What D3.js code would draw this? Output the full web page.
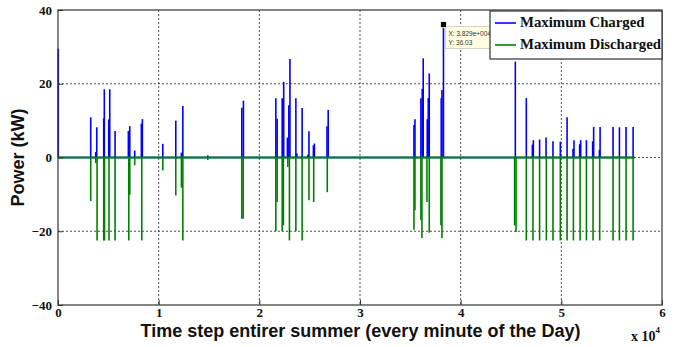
<!DOCTYPE html>
<html>
<head>
<meta charset="utf-8">
<script src="https://cdn.jsdelivr.net/npm/d3@7"></script>
<style>
  body { margin: 0; background: #fff; }
  svg { display: block; }
</style>
</head>
<body>
<div id="chart"></div>
<script>
// charged spikes: time step (minute) and power (kW)
const chargedTimes = [30, 3250, 3750, 3850, 4540, 4600, 5040, 5140, 5670, 6990, 7130, 7620, 8280, 8380,
  10410, 11700, 12260, 12400, 14880, 18260, 18420, 21640, 21770, 22270, 22420, 22790, 22930, 23040,
  23630, 23730, 24250, 24830, 24930, 25370, 25470, 26720, 26840, 35360, 35460, 36050, 36180, 36280,
  36680, 36780, 36880, 38070, 38140, 38290, 45430, 46520, 47120, 47220, 47840, 48480, 49170, 49900,
  50570, 51160, 51260, 51820, 51920, 52490, 53110, 53210, 53780, 53850, 55140, 55770, 56430, 57130];
const chargedValues = [29.5, 10.9, 1.5, 8.2, 10.6, 18.5, 10.3, 18.5, 7.2, 7.2, 8.5, 1.9, 9.2, 10.4,
  3.7, 10.0, 1.3, 14.0, 0.6, 13.5, 15.4, 16.1, 10.5, 16.1, 20.5, 5.4, 14.2, 26.7,
  16.1, 1.1, 13.4, 0.8, 7.1, 3.3, 3.8, 8.5, 12.9, 8.8, 10.4, 16.1, 18.6, 26.9,
  10.4, 16.1, 22.8, 16.1, 18.3, 36.03, 26.0, 16.1, 3.5, 4.7, 4.9, 5.4, 4.4, 4.3,
  10.9, 2.4, 4.7, 3.6, 4.7, 4.7, 4.4, 8.3, 2.0, 8.3, 8.3, 8.2, 8.3, 8.3];

// discharged spikes
const dischargedTimes = [3250, 3750, 3880, 4540, 4620, 5070, 5670, 7030, 7130, 7620, 8320, 10410,
  11700, 12260, 12400, 14880, 18260, 18400, 21640, 21770, 22270, 22390, 22830, 22990, 23630, 24250,
  24930, 25400, 26750, 35360, 35460, 36050, 36150, 36650, 36880, 38040, 38140, 45360, 45500, 46520,
  47180, 47840, 48510, 49170, 49900, 50570, 51200, 51860, 52490, 53150, 53810, 55140, 55770, 56430, 57130];
const dischargedValues = [-11.8, -1.5, -22.5, -22.5, -22.5, -22.5, -22.5, -22.5, -10.1, -2.1, -22.5, -3.5,
  -10.3, -8.2, -22.5, -0.7, -16.6, -16.6, -20.0, -12.1, -20.0, -18.4, -2.6, -22.5, -20.0, -22.5,
  -11.6, -12.1, -9.4, -19.6, -14.3, -17.0, -21.8, -12.1, -20.4, -18.4, -21.8, -18.4, -20.2, -22.5,
  -22.5, -22.5, -22.5, -22.5, -22.5, -22.5, -22.5, -22.5, -22.5, -22.5, -22.5, -22.5, -22.5, -22.5, -22.5];

const lastStep = 57280;
const xTicks = [0, 10000, 20000, 30000, 40000, 50000, 60000];
const yTicks = [-40, -20, 0, 20, 40];
const legendLabels = ["Maximum Charged", "Maximum Discharged"];
const tipPoint = { x: 38290, y: 36.03 };

const width = 688, height = 347;
const margin = { top: 10, right: 26, bottom: 42, left: 58 };
const w = width - margin.left - margin.right;
const h = height - margin.top - margin.bottom;

const blue = "#0000ff", green = "#008000";
const serif = "'Liberation Serif', 'Times New Roman', serif";
const sans = "'Liberation Sans', Arial, sans-serif";

const svg = d3.select("#chart").append("svg")
  .attr("width", width).attr("height", height);
const g = svg.append("g").attr("transform", `translate(${margin.left},${margin.top})`);

const x = d3.scaleLinear().domain([0, 60000]).range([0, w]);
const y = d3.scaleLinear().domain([-40, 40]).range([h, 0]);

// grid
g.append("g").selectAll("line").data(xTicks.slice(1, -1)).enter().append("line")
  .attr("x1", d => x(d)).attr("x2", d => x(d)).attr("y1", 0).attr("y2", h)
  .attr("stroke", "#222").attr("stroke-width", 0.8).attr("stroke-dasharray", "2,2");
g.append("g").selectAll("line").data(yTicks.slice(1, -1)).enter().append("line")
  .attr("x1", 0).attr("x2", w).attr("y1", d => y(d)).attr("y2", d => y(d))
  .attr("stroke", "#222").attr("stroke-width", 0.8).attr("stroke-dasharray", "2,2");

// charged
const cg = g.append("g").attr("stroke", blue).attr("stroke-width", 1.6);
cg.append("line").attr("x1", x(0)).attr("x2", x(lastStep)).attr("y1", y(0)).attr("y2", y(0));
cg.selectAll(".sp").data(chargedTimes).enter().append("line").attr("class", "sp")
  .attr("x1", d => x(d)).attr("x2", d => x(d))
  .attr("y1", y(0)).attr("y2", (d, i) => y(chargedValues[i]));

// discharged
const dg = g.append("g").attr("stroke", green).attr("stroke-width", 1.6);
dg.selectAll(".sp").data(dischargedTimes).enter().append("line").attr("class", "sp")
  .attr("x1", d => x(d)).attr("x2", d => x(d))
  .attr("y1", y(0)).attr("y2", (d, i) => y(dischargedValues[i]));
dg.append("line").attr("x1", x(0)).attr("x2", x(lastStep)).attr("y1", y(0)).attr("y2", y(0))
  .attr("stroke-width", 2);

// axes box
g.append("rect").attr("width", w).attr("height", h)
  .attr("fill", "none").attr("stroke", "#333").attr("stroke-width", 1.2);

// ticks (inward) and labels
const xAxis = g.append("g").attr("transform", `translate(0,${h})`)
  .call(d3.axisBottom(x).tickValues(xTicks).tickSize(-5).tickPadding(3).tickFormat(d => d / 10000));
const yAxis = g.append("g")
  .call(d3.axisLeft(y).tickValues(yTicks).tickSize(-5).tickPadding(6).tickFormat(d3.format("d")));
[xAxis, yAxis].forEach(a => {
  a.select(".domain").remove();
  a.selectAll("line").attr("stroke", "#333");
  a.selectAll("text").attr("font-family", serif).attr("font-weight", "bold")
    .attr("font-size", 13).attr("fill", "#111");
});

// exponent
const ex = g.append("text").attr("x", w - 31).attr("y", h + 36)
  .attr("font-family", serif).attr("font-weight", "bold").attr("font-size", 14).attr("fill", "#111");
ex.append("tspan").text("x 10");
ex.append("tspan").attr("dy", -8).attr("font-size", 9).text("4");

// axis labels
g.append("text").attr("x", (138 + 583) / 2 - margin.left).attr("y", h + 32)
  .attr("text-anchor", "middle").attr("font-family", sans).attr("font-weight", "bold")
  .attr("font-size", 18).attr("fill", "#111")
  .text("Time step entirer summer (every minute of the Day)");
g.append("text").attr("transform", `translate(${-34},${h / 2}) rotate(-90)`)
  .attr("text-anchor", "middle").attr("font-family", sans).attr("font-weight", "bold")
  .attr("font-size", 18).attr("fill", "#111").text("Power (kW)");

// data tip
const tx = x(tipPoint.x), ty = y(tipPoint.y);
const tip = g.append("g");
tip.append("rect").attr("x", tx + 2).attr("y", ty + 2).attr("width", 46).attr("height", 22)
  .attr("fill", "#ffffe1").attr("stroke", "#c8c8b4").attr("stroke-width", 0.8);
tip.append("text").attr("x", tx + 5).attr("y", ty + 11).attr("font-family", sans)
  .attr("font-size", 6.5).attr("fill", "#333").text("X: 3.829e+004");
tip.append("text").attr("x", tx + 5).attr("y", ty + 20).attr("font-family", sans)
  .attr("font-size", 6.5).attr("fill", "#333").text("Y: 36.03");
tip.append("rect").attr("x", tx - 3).attr("y", ty - 3).attr("width", 6).attr("height", 6)
  .attr("fill", "#000").attr("stroke", "#ffffe1").attr("stroke-width", 0.8);

// legend
const lg = g.append("g").attr("transform", `translate(${w - 172},0)`);
lg.append("rect").attr("x", 0).attr("y", 1).attr("width", 172).attr("height", 48)
  .attr("fill", "#fff").attr("stroke", "#333").attr("stroke-width", 1.2);
lg.selectAll(".ll").data(legendLabels).enter().append("line").attr("class", "ll")
  .attr("x1", 5).attr("x2", 26).attr("y1", (d, i) => 13 + i * 22).attr("y2", (d, i) => 13 + i * 22)
  .attr("stroke", (d, i) => i === 0 ? blue : green).attr("stroke-width", 1.6);
lg.selectAll(".lt").data(legendLabels).enter().append("text").attr("class", "lt")
  .attr("x", 30).attr("y", (d, i) => 17 + i * 22)
  .attr("font-family", serif).attr("font-weight", "bold").attr("font-size", 14.8).attr("fill", "#111")
  .text(d => d);
</script>
</body>
</html>
